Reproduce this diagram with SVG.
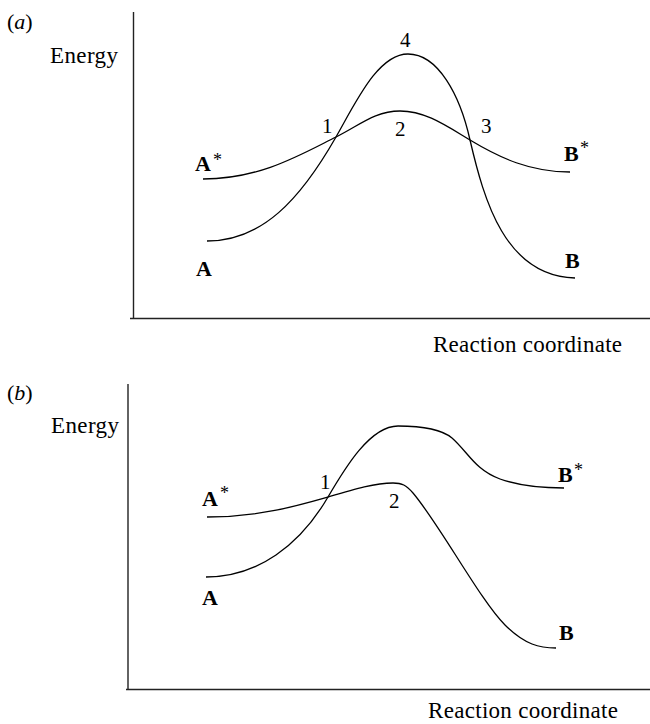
<svg xmlns="http://www.w3.org/2000/svg" width="650" height="724" viewBox="0 0 650 724">
<style>
.axis{stroke:#222;stroke-width:1.4;fill:none}
.curve{stroke:#000;stroke-width:1.3;fill:none}
text{font-family:"Liberation Serif","Times New Roman",serif;fill:#000}
.lbl{font-size:23px}
.num{font-size:21px}
.st{font-size:22px;font-weight:bold}
.ast{font-size:18px}
.pan{font-size:22px}
</style>
<rect width="650" height="724" fill="#fff"/>
<g id="panel-a">
  <text class="pan" x="7" y="29">(<tspan font-style="italic">a</tspan>)</text>
  <text class="lbl" x="50" y="63" textLength="68">Energy</text>
  <line class="axis" x1="133.5" y1="12" x2="133.5" y2="318.5"/>
  <line class="axis" x1="130" y1="318.5" x2="650" y2="318.5"/>
  <text class="lbl" x="433" y="352" textLength="189">Reaction coordinate</text>
  <path class="curve" d="M207,241 C262,241 300,200 336,137 C356,102 378,54 408,54 C438,54 460,95 470,140 C484,200 505,276 575,278"/>
  <path class="curve" d="M203,179 C260,179 300,155 336,137 C360,125 375,111 400,111 C425,111 445,125 470,140 C500,158 530,172 570,172"/>
  <text class="st" x="195" y="171">A</text><text class="ast" x="213" y="166">*</text>
  <text class="st" x="564" y="161">B</text><text class="ast" x="580" y="154">*</text>
  <text class="st" x="196" y="276">A</text>
  <text class="st" x="565" y="268">B</text>
  <text class="num" x="400" y="47">4</text>
  <text class="num" x="322" y="133">1</text>
  <text class="num" x="395" y="136">2</text>
  <text class="num" x="481" y="133">3</text>
</g>
<g id="panel-b">
  <text class="pan" x="7" y="400">(<tspan font-style="italic">b</tspan>)</text>
  <text class="lbl" x="51" y="433" textLength="68">Energy</text>
  <line class="axis" x1="128" y1="384" x2="128" y2="689.5"/>
  <line class="axis" x1="126" y1="689.5" x2="650" y2="689.5"/>
  <text class="lbl" x="428" y="718" textLength="190">Reaction coordinate</text>
  <path class="curve" d="M206,577 C258,577 300,545 328,497 C345,468 370,426 398,426 C420,426 440,428 452,438 C468,452 475,470 500,479 C520,486 545,488 564,488"/>
  <path class="curve" d="M207,517 C260,517 300,505 328,497 C355,489 375,483 393,483 C402,483 406,485 413,493 C440,525 480,600 505,625 C525,645 540,648 556,648"/>
  <text class="st" x="202" y="506">A</text><text class="ast" x="220" y="499">*</text>
  <text class="st" x="558" y="482">B</text><text class="ast" x="574" y="476">*</text>
  <text class="st" x="202" y="605">A</text>
  <text class="st" x="559" y="640">B</text>
  <text class="num" x="320" y="489">1</text>
  <text class="num" x="389" y="508">2</text>
</g>
</svg>
